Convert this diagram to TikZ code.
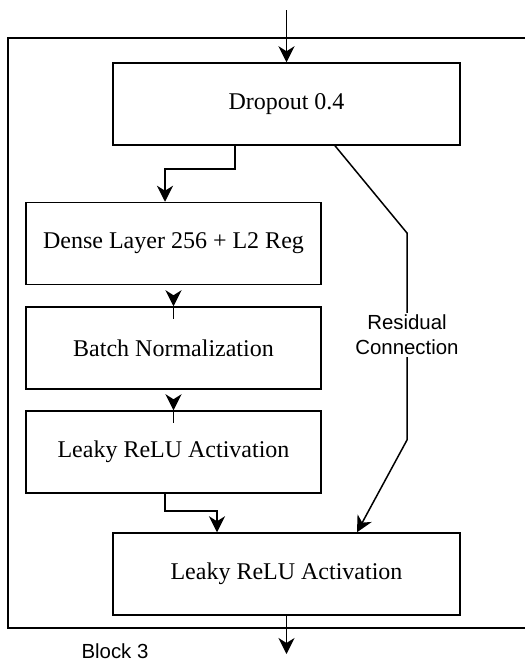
\documentclass[tikz,border=0pt]{standalone}
\usepackage{fontspec}
\setmainfont{Liberation Serif}
\setsansfont{Liberation Sans}
\usetikzlibrary{arrows.meta}
\begin{document}
\begin{tikzpicture}[x=1pt,y=-1pt,
  layer/.style={draw, line width=1.5pt, minimum height=82pt, inner sep=0pt,
    font=\fontsize{24}{28}\selectfont},
  wide/.style={layer, minimum width=347pt},
  narrow/.style={layer, minimum width=295pt},
  link/.style={line width=1.5pt},
  arr/.style={link, -{Stealth[length=16pt,width=16pt,inset=5pt]}},
  lbl/.style={font=\sffamily\fontsize{20.4}{25}\selectfont, align=center}
]
\useasboundingbox (0,0) rectangle (525,667);
% outer frame
\draw[link] (525,38) -- (8,38) -- (8,628) -- (525,628);

\node[wide]   (drop)  at (286.5,104) {Dropout 0.4};
\node[narrow] (dense) at (173.5,243.5) {Dense Layer 256 + L2 Reg};
\node[narrow] (bn)    at (173.5,348) {Batch Normalization};
\node[narrow] (lr1)   at (173.5,452) {Leaky ReLU Activation};
\node[wide]   (lr2)   at (286.5,574) {Leaky ReLU Activation};

\coordinate (in)  at (286.5,10);
\coordinate (out) at (286.5,654);
\coordinate (r1)  at (407,233);
\coordinate (r2)  at (407,440);

\draw[arr] (in) -- (drop.north);
\draw[arr] ([xshift=-51.5pt]drop.south) -- ++(0,23) -| ([xshift=-8.5pt]dense.north);
\draw[arr] ([yshift=-12pt]dense.south) -- (bn.north);
\draw[link] (bn.north) -- ++(0,13);
\draw[arr] ([yshift=-13pt]bn.south) -- (lr1.north);
\draw[link] (lr1.north) -- ++(0,13);
\draw[arr] ([xshift=-8.5pt]lr1.south) -- ++(0,17) -| ([xshift=-69.5pt]lr2.north);
\draw[arr] ([xshift=48.5pt]drop.south) -- (r1) -- (r2) -- ([xshift=70.5pt]lr2.north);
\node[lbl, fill=white, inner sep=2pt] (res) at (407,335) {Residual\\Connection};
\draw[arr] (lr2.south) -- (out);

\node[lbl, anchor=west] (blk) at (78,651) {Block 3};
\end{tikzpicture}
\end{document}
